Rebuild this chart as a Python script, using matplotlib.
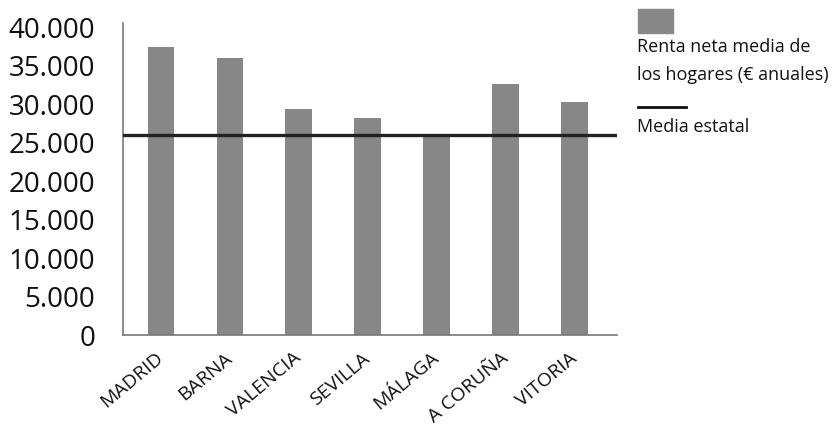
import matplotlib.pyplot as plt
from matplotlib.patches import Rectangle
from matplotlib.lines import Line2D

plt.rcParams['font.family'] = ['Open Sans', 'DejaVu Sans']

# Renta neta media de los hogares por ciudad (euros anuales)
ciudades = ['MADRID', 'BARNA', 'VALENCIA', 'SEVILLA', 'MÁLAGA', 'A CORUÑA', 'VITORIA']
renta = [37400, 36000, 29300, 28200, 25900, 32600, 30300]
media_estatal = 26000
yticks = [0, 5000, 10000, 15000, 20000, 25000, 30000, 35000, 40000]
ytick_labels = ['0', '5.000', '10.000', '15.000', '20.000', '25.000', '30.000', '35.000', '40.000']

bar_color = '#878787'
text_color = '#111111'

fig = plt.figure(figsize=(8.32, 4.29), dpi=100)
ax = fig.add_axes([0.148, 0.219, 0.594, 0.727])

x = range(len(ciudades))
ax.bar(x, renta, width=0.39, color=bar_color, zorder=2)
ax.axhline(media_estatal, color='#222222', linewidth=2.4, zorder=3)

ax.set_xlim(-0.55, 6.62)
ax.set_ylim(0, 40500)
ax.set_yticks(yticks)
ax.set_yticklabels(ytick_labels, fontsize=20, color=text_color)
ax.set_xticks(list(x))
ax.set_xticklabels(ciudades, fontsize=14, color=text_color, rotation=40,
                   ha='right', va='center', rotation_mode='anchor')
ax.tick_params(axis='y', length=0, pad=20)
ax.tick_params(axis='x', length=0, pad=15)

for side in ['top', 'right']:
    ax.spines[side].set_visible(False)
for side in ['left', 'bottom']:
    ax.spines[side].set_color('#777777')
    ax.spines[side].set_linewidth(1.2)

# Leyenda a la derecha
fig.patches.append(Rectangle((638 / 832, 1 - 33 / 429), 35 / 832, 24 / 429,
                             transform=fig.transFigure, color=bar_color))
fig.text(637 / 832, 1 - 47 / 429, 'Renta neta media de', fontsize=13,
         color=text_color, va='center')
fig.text(637 / 832, 1 - 75 / 429, 'los hogares (€ anuales)', fontsize=13,
         color=text_color, va='center')
fig.lines.append(Line2D([638 / 832, 686 / 832], [1 - 107 / 429, 1 - 107 / 429],
                        transform=fig.transFigure, color='#111111', linewidth=2))
fig.text(637 / 832, 1 - 127 / 429, 'Media estatal', fontsize=13,
         color=text_color, va='center')

fig.savefig('out.png', dpi=100)
